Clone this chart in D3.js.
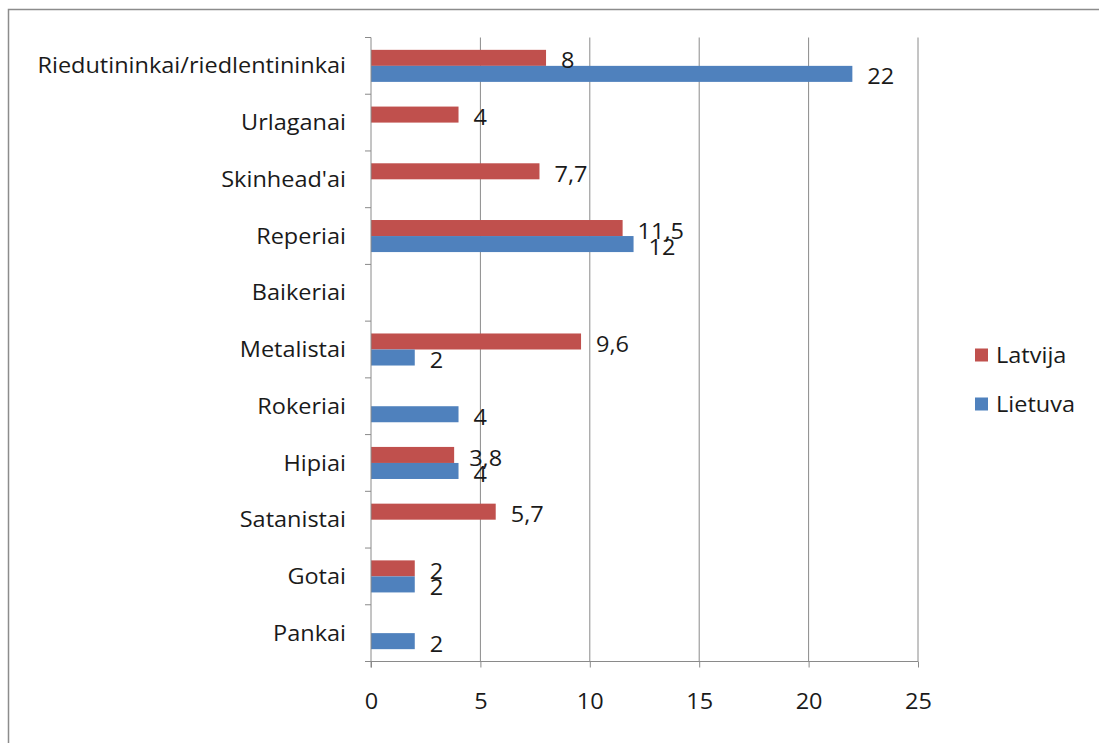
<!DOCTYPE html>
<html>
<head>
<meta charset="utf-8">
<script src="https://cdn.jsdelivr.net/npm/d3@7"></script>
<style>
  body { margin: 0; background: #fff; }
  text { font-family: "Open Sans", sans-serif; fill: #1a1a1a; }
</style>
</head>
<body>
<div class="chart"></div>
<script>
var categories = ["Riedutininkai/riedlentininkai", "Urlaganai", "Skinhead'ai", "Reperiai",
  "Baikeriai", "Metalistai", "Rokeriai", "Hipiai", "Satanistai", "Gotai", "Pankai"];
var series = ["Latvija", "Lietuva"];
var latvija = [8, 4, 7.7, 11.5, null, 9.6, null, 3.8, 5.7, 2, null];
var lietuva = [22, null, null, 12, null, 2, 4, 4, null, 2, 2];
var xTicks = [0, 5, 10, 15, 20, 25];
var colors = { Latvija: "#C0504D", Lietuva: "#4F81BD" };

var W = 1099, H = 743;
var margin = { top: 37.5, left: 371, right: W - 918, bottom: H - 661.5 };
var width = W - margin.left - margin.right;
var height = H - margin.top - margin.bottom;
var FS = 21, SX = 1.12; // font size, horizontal stretch of the text

var root = d3.select(".chart").append("svg")
  .attr("width", W)
  .attr("height", H);

// outer frame
root.append("rect")
  .attr("x", 8.5).attr("y", 9.5)
  .attr("width", W + 10).attr("height", H + 10)
  .attr("fill", "none")
  .attr("stroke", "#8c8c8c")
  .attr("stroke-width", 1.5);

var svg = root.append("g")
  .attr("transform", `translate(${margin.left}, ${margin.top})`);

var x = d3.scaleLinear().domain([0, 25]).range([0, width]);
var y = d3.scaleBand().domain(categories).range([0, height]).padding(0);
var ySub = d3.scaleBand().domain(series).range([0, y.bandwidth()])
  .paddingInner(0).paddingOuter(0.77);

// gridlines
svg.append("g")
  .selectAll("line")
  .data(xTicks.slice(1))
  .join("line")
  .attr("x1", (d) => x(d)).attr("x2", (d) => x(d))
  .attr("y1", 0).attr("y2", height)
  .attr("stroke", "#8a8a8a")
  .attr("stroke-width", 1);

// bars
var rows = [];
categories.forEach(function (c, i) {
  rows.push({ cat: c, s: "Latvija", v: latvija[i] });
  rows.push({ cat: c, s: "Lietuva", v: lietuva[i] });
});
rows = rows.filter((d) => d.v != null);

svg.append("g")
  .selectAll("rect")
  .data(rows)
  .join("rect")
  .attr("x", 0)
  .attr("y", (d) => y(d.cat) + ySub(d.s))
  .attr("width", (d) => x(d.v))
  .attr("height", ySub.bandwidth())
  .attr("fill", (d) => colors[d.s]);

// value labels
var fmt = (v) => String(v).replace(".", ",");
svg.append("g")
  .selectAll("text")
  .data(rows)
  .join("text")
  .attr("transform", (d) => `translate(${x(d.v) + 15}, ${y(d.cat) + ySub(d.s) + ySub.bandwidth() / 2 + 3}) scale(${SX}, 1)`)
  .attr("dy", "0.36em")
  .attr("font-size", FS)
  .text((d) => fmt(d.v));

// x axis
var xAxis = svg.append("g")
  .attr("transform", `translate(0, ${height})`)
  .call(d3.axisBottom(x).tickValues(xTicks).tickSize(6).tickPadding(27));
xAxis.select(".domain").attr("stroke", "#8a8a8a").attr("d", `M0,0H${width}`);
xAxis.selectAll(".tick line").attr("stroke", "#8a8a8a");
xAxis.selectAll("text")
  .attr("font-size", FS).attr("font-family", "Open Sans").attr("fill", "#1a1a1a")
  .attr("transform", `scale(${SX}, 1)`);

// y axis: line + ticks at band boundaries
var yAxis = svg.append("g");
yAxis.append("line")
  .attr("x1", 0).attr("x2", 0).attr("y1", 0).attr("y2", height + 6)
  .attr("stroke", "#8a8a8a");
yAxis.selectAll(".bt")
  .data(categories.concat([null]))
  .join("line")
  .attr("class", "bt")
  .attr("x1", -6).attr("x2", 0)
  .attr("y1", (d, i) => i * y.step()).attr("y2", (d, i) => i * y.step())
  .attr("stroke", "#8a8a8a");
yAxis.selectAll("text")
  .data(categories)
  .join("text")
  .attr("transform", (d) => `translate(-25, ${y(d) + y.bandwidth() / 2}) scale(${SX}, 1)`)
  .attr("dy", "0.36em")
  .attr("text-anchor", "end")
  .attr("font-size", FS)
  .text((d) => d);

// legend
var legend = root.append("g").attr("transform", "translate(975, 355)");
var li = legend.selectAll("g").data(series).join("g")
  .attr("transform", (d, i) => `translate(0, ${i * 49})`);
li.append("rect")
  .attr("x", 0).attr("y", -6.5)
  .attr("width", 13).attr("height", 13)
  .attr("fill", (d) => colors[d]);
li.append("text")
  .attr("transform", `translate(21, 0) scale(${SX}, 1)`)
  .attr("dy", "0.36em")
  .attr("font-size", FS)
  .text((d) => d);
</script>
</body>
</html>
